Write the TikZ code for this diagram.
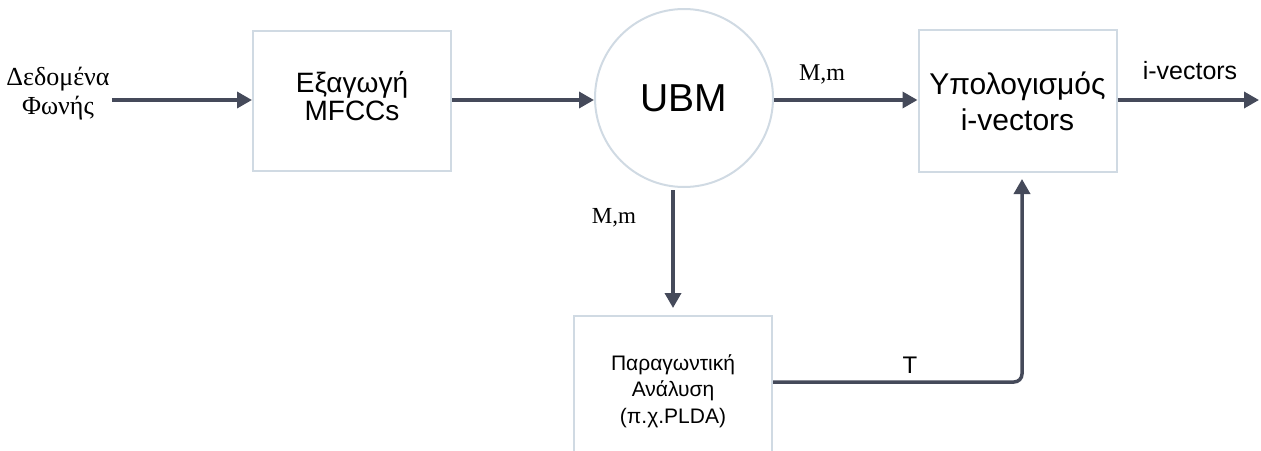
\documentclass[tikz,border=0pt]{standalone}
\usepackage{fontspec}
\setmainfont{Liberation Sans}
\newfontfamily\grserif{Liberation Serif}
\usetikzlibrary{arrows.meta}
\definecolor{boxline}{RGB}{208,218,227}
\definecolor{arrowc}{RGB}{69,74,90}
\begin{document}
\begin{tikzpicture}[
    x=1pt, y=-1pt,
    blk/.style={draw=boxline, line width=2pt, minimum width=198pt, minimum height=140pt, align=center, inner sep=0pt},
    flow/.style={draw=arrowc, line width=3.5pt, -{Triangle[length=15pt,width=16pt]}},
    lbl/.style={inner sep=0pt, anchor=base},
  ]
    \useasboundingbox (0,0) rectangle (1261,450);
    \clip (0,0) rectangle (1261,450);

    % === blocks ===
    \node[align=center, inner sep=2pt, font=\grserif\fontsize{26}{29}\selectfont] (src) at (58,94) {Δεδομένα\\Φωνής};
    \node[blk, text depth=10pt, font=\fontsize{28}{27.5}\selectfont] (mfcc) at (352,101) {Εξαγωγή\\MFCCs};
    \node[draw=boxline, line width=2pt, circle, minimum size=178pt, inner sep=0pt, font=\fontsize{39}{39}\selectfont] (ubm) at (684,98) {UBM};
    \node[blk, minimum height=142pt, font=\fontsize{30}{36}\selectfont] (ivec) at (1017.5,101) {Υπολογισμός\\i-vectors};
    \node[blk, minimum height=150pt, anchor=north, font=\fontsize{21}{26.5}\selectfont] (fa) at (673,315) {Παραγωντική\\Ανάλυση\\(π.χ.PLDA)};
    \coordinate (out) at (1259,100);

    % === connectors ===
    \draw[flow] (src.east |- 0,100) -- (mfcc.west |- 0,100);
    \draw[flow] (mfcc.east |- 0,100) -- (ubm.west |- 0,100);
    \draw[flow] (ubm.east |- 0,100) -- (ivec.west |- 0,100);
    \draw[flow] (ivec.east |- out) -- (out);
    \draw[flow] (fa.north |- 0,190) -- ([yshift=7pt]fa.north);
    \draw[flow, rounded corners=8pt] (fa.east |- 0,382) -| ([xshift=4.5pt, yshift=-6pt]ivec.south);

    % === labels ===
    \node[lbl, font=\grserif\fontsize{24}{24}\selectfont] (mmtop) at (822,80) {M,m};
    \node[lbl, font=\grserif\fontsize{23}{23}\selectfont] (mmleft) at (614,223) {M,m};
    \node[lbl, font=\fontsize{24}{24}\selectfont] (tlab) at (910,373) {T};
    \node[lbl, font=\fontsize{25}{25}\selectfont] (ivlab) at (1190,79) {i-vectors};
  \end{tikzpicture}
\end{document}
